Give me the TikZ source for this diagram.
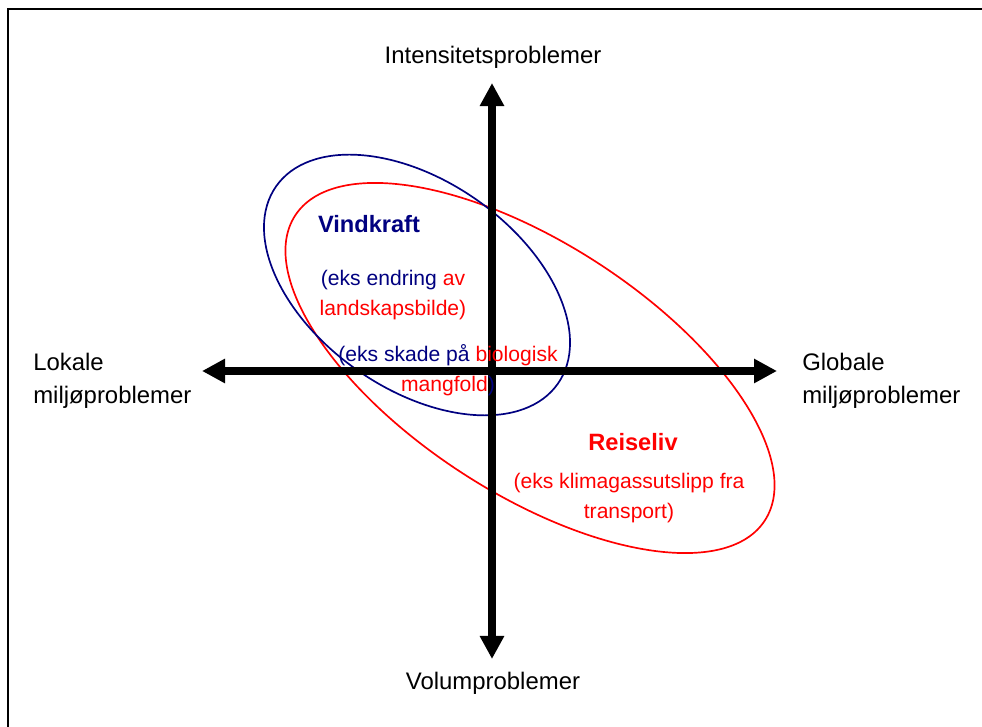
\documentclass[tikz,border=0pt]{standalone}
\usepackage{fontspec}
\setmainfont{Liberation Sans}
\usetikzlibrary{arrows.meta}
\definecolor{navyblue}{RGB}{0,0,128}
\definecolor{brightred}{RGB}{255,0,0}

\begin{document}
\begin{tikzpicture}[
        x=0.025cm, y=-0.025cm,
        axis/.style={line width=0.2cm, {Triangle[length=0.575cm, width=0.575cm]}-{Triangle[length=0.575cm, width=0.575cm]}},
        axistext/.style={inner sep=0pt, font=\fontsize{17}{23.5}\selectfont, align=left},
        sectortext/.style={inner sep=0pt, font=\fontsize{15}{21}\selectfont, align=center},
        sectorname/.style={inner sep=0pt, font=\fontsize{16.8}{18}\selectfont\bfseries},
        area/.style={line width=1.2pt}
    ]
        \useasboundingbox (0,0) rectangle (982,727);

        % Frame (left and top edge only)
        \draw[line width=1.5pt] (8,727) -- (8,9) -- (982,9);

        % Axis end points
        \coordinate (west) at (202,371);
        \coordinate (east) at (777,371);
        \coordinate (north) at (492,83);
        \coordinate (south) at (492,659);

        % Areas
        \draw[area, brightred, rotate around={-33:(530,368)}] (530,368) ellipse [x radius=280, y radius=125];
        \draw[area, navyblue, rotate around={-35:(417,285)}] (417,285) ellipse [x radius=172, y radius=104];

        % Axes
        \draw[axis] (west) -- (east);
        \draw[axis] (south) -- (north);

        % Axis labels
        \node[axistext] (intensity) at (493,57) {Intensitetsproblemer};
        \node[axistext] (volume) at (493,683) {Volumproblemer};
        \node[axistext, anchor=west] (local) at (33,381) {Lokale\\miljøproblemer};
        \node[axistext, anchor=west] (global) at (802,381) {Globale\\miljøproblemer};

        % Wind power
        \node[sectorname, text=navyblue] (wind) at (369,224) {Vindkraft};
        \node[sectortext, text=navyblue] (windex1) at (393,295) {(eks endring \textcolor{brightred}{av}\\\textcolor{brightred}{landskapsbilde)}};
        \node[sectortext, text=navyblue] (windex2) at (448,370) {(eks skade på \textcolor{brightred}{biologisk}\\\textcolor{brightred}{mangfold})};

        % Tourism
        \node[sectorname, text=brightred] (tourism) at (633,442) {Reiseliv};
        \node[sectortext, text=brightred] (tourismex) at (629,498) {(eks klimagassutslipp fra\\transport)};

    \end{tikzpicture}
\end{document}
